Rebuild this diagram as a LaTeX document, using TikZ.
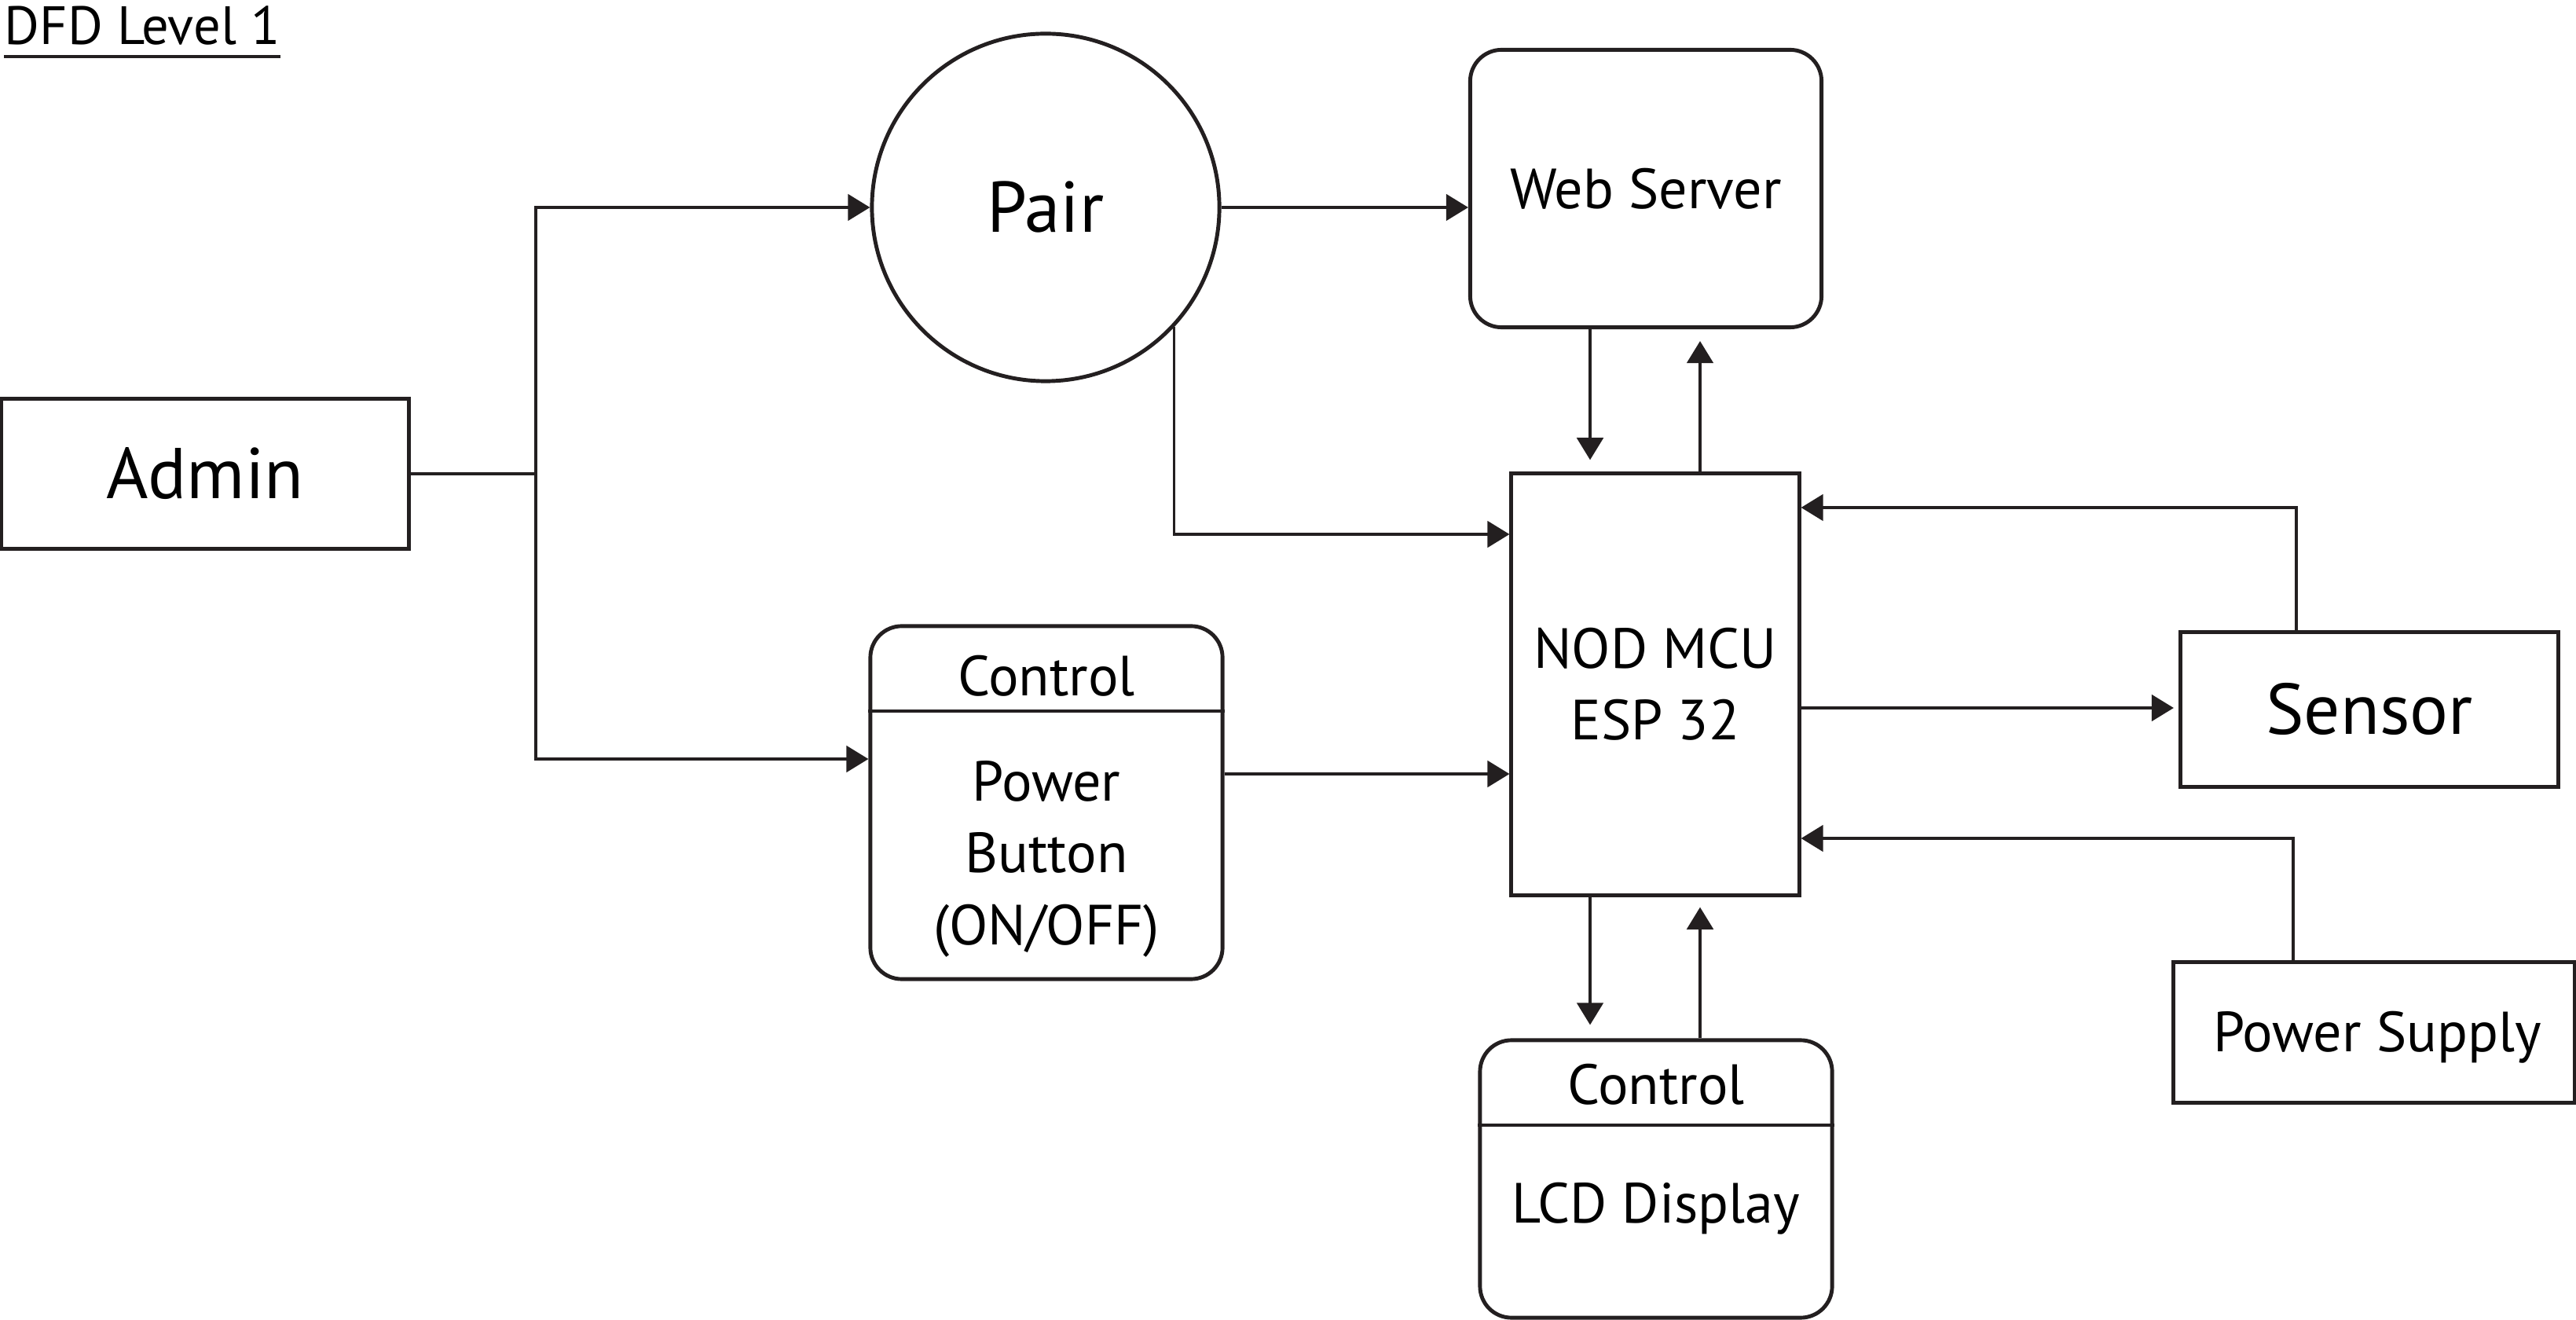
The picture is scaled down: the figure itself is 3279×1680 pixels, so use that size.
\documentclass[tikz,border=0pt]{standalone}
\usepackage{fontspec}
\setmainfont{PT Sans}
\usetikzlibrary{arrows.meta}
\definecolor{ink}{HTML}{231F20}
\newcommand{\txtn}{\fontsize{20.5}{26}\selectfont}
\newcommand{\txtb}{\fontsize{26}{31}\selectfont}
\newcommand{\txtt}{\fontsize{19.5}{24}\selectfont}

\begin{document}
\begin{tikzpicture}[x=0.01cm, y=-0.01cm,
    block/.style={draw=ink, line width=1.4pt, rectangle, font=\txtn, align=center},
    rblock/.style={block, rounded corners=0.4cm},
    flow/.style={draw=ink, line width=1.1pt, -{Triangle[length=8pt,width=9.5pt]}},
    link/.style={draw=ink, line width=1.1pt}]
\useasboundingbox (0, 0) rectangle (3279, 1680);

\node [anchor=base west, inner sep=0pt, font=\txtt] (title) at (5, 57) {DFD Level 1};
\draw [link, line width=0.9pt] ([yshift=-0.15cm]title.base west) -- ([yshift=-0.15cm]title.base east);

\node [block, minimum width=5.19cm, minimum height=1.9cm, font=\txtb] (admin) at (261, 603) {Admin};
\node [block, circle, minimum size=4.42cm, font=\txtb] (pair) at (1331, 264) {Pair};
\node [rblock, minimum width=4.47cm, minimum height=3.53cm] (web) at (2095, 240) {Web Server};
\node [block, minimum width=3.66cm, minimum height=5.36cm] (mcu) at (2107, 871) {NOD MCU\\ESP 32};
\node [block, minimum width=4.81cm, minimum height=1.97cm, font=\txtb] (sensor) at (3016, 903) {Sensor};
\node [block, minimum width=5.1cm, minimum height=1.78cm] (supply) at (3022, 1314) {};
\node [font=\txtn] (supplytext) at (3026, 1320) {Power Supply};

\node [rblock, minimum width=4.48cm, minimum height=4.49cm] (power) at (1332, 1021.5) {};
\draw [link, line width=1.4pt] (power.west |- 0,905) -- (power.east |- 0,905);
\node [font=\txtn] (powtitle) at (1332, 860) {Control};
\node [font=\txtn, align=center] (powtext) at (1332, 1093) {Power\\Button\\(ON/OFF)};

\node [rblock, minimum width=4.48cm, minimum height=3.53cm] (lcd) at (2108, 1500.5) {};
\draw [link, line width=1.4pt] (lcd.west |- 0,1432) -- (lcd.east |- 0,1432);
\node [font=\txtn] (lcdtitle) at (2108, 1380) {Control};
\node [font=\txtn] (lcdtext) at (2108, 1538) {LCD Display};

\coordinate (split) at (682, 603);
\draw [link] (admin.east) -- (split);
\draw [flow] (split) |- (pair.west);
\draw [flow] (split) |- (power.west |- 0,966);
\draw [flow] (pair.east) -- (web.west |- pair.east);
\draw [flow] (pair.-43.5) |- (mcu.west |- 0,680);
\draw [flow, shorten >=0.15cm] (web.south -| 2024,0) -- (mcu.north -| 2024,0);
\draw [flow, shorten >=0.15cm] (mcu.north -| 2164,0) -- (web.south -| 2164,0);
\draw [flow] (sensor.north -| 2923,0) |- (mcu.east |- 0,646);
\draw [flow, shorten >=0.06cm] (mcu.east |- 0,901) -- (sensor.west |- 0,901);
\draw [flow] (supply.north -| 2919,0) |- (mcu.east |- 0,1067);
\draw [flow] (power.east |- 0,985) -- (mcu.west |- 0,985);
\draw [flow, shorten >=0.17cm] (mcu.south -| 2024,0) -- (lcd.north -| 2024,0);
\draw [flow, shorten >=0.13cm] (lcd.north -| 2164,0) -- (mcu.south -| 2164,0);
\end{tikzpicture}
\end{document}
